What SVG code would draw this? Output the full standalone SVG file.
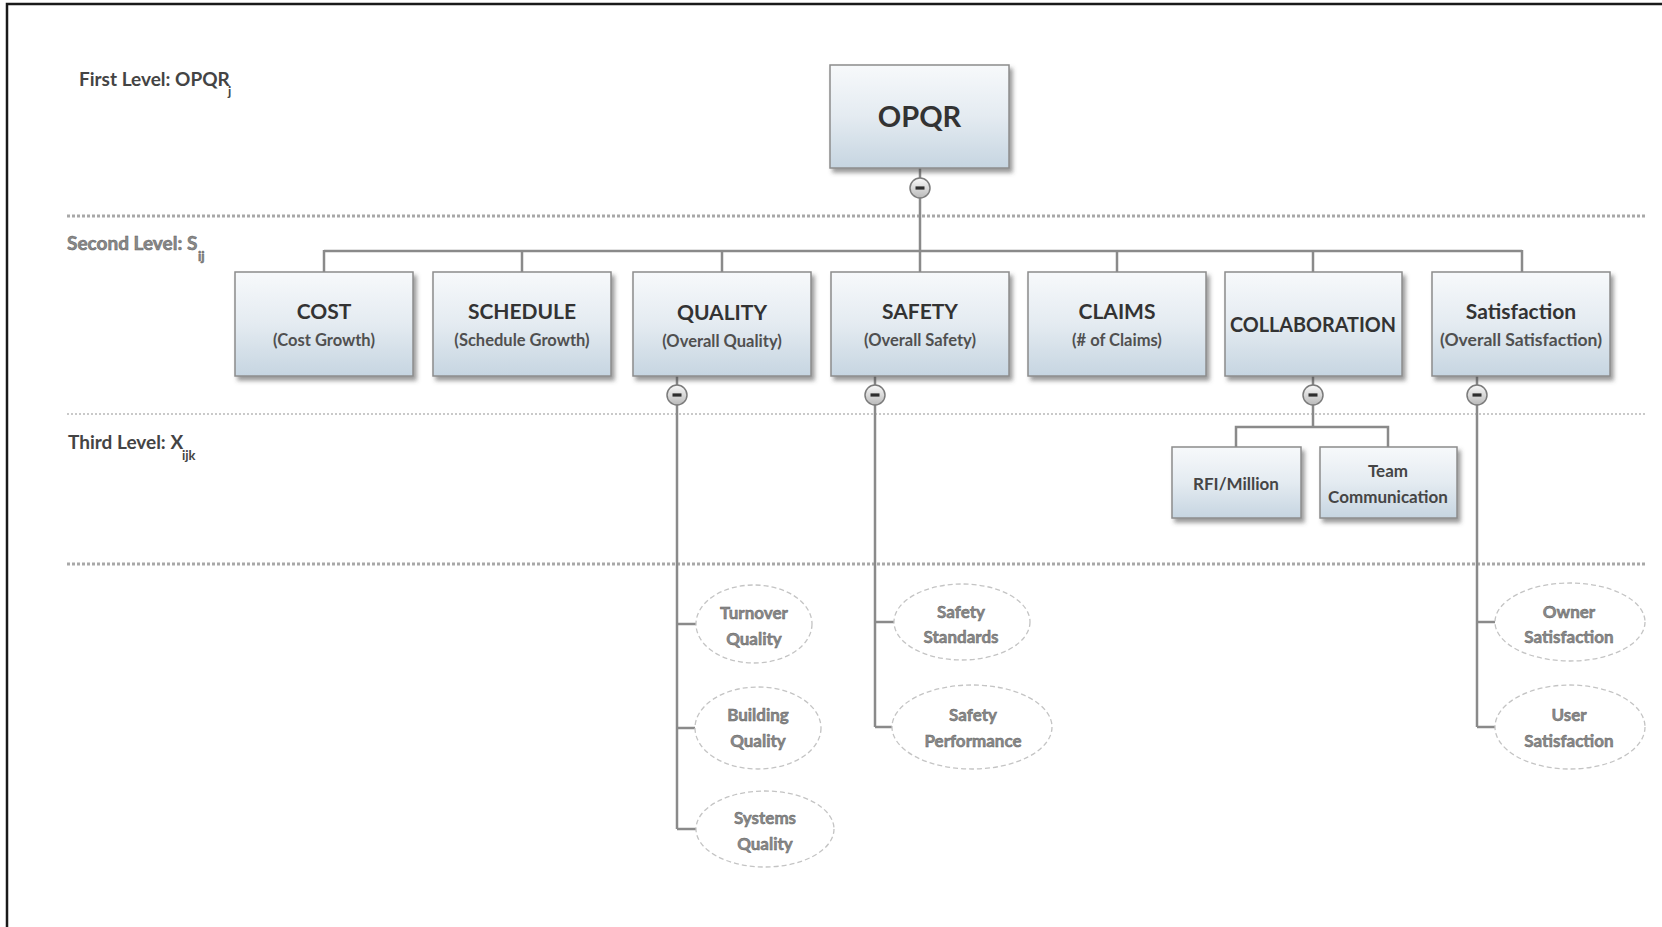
<svg xmlns="http://www.w3.org/2000/svg" width="1662" height="927" viewBox="0 0 1662 927">
  <defs>
    <linearGradient id="boxFill" x1="0" y1="0" x2="0" y2="1">
      <stop offset="0" stop-color="#f7f9fb"/>
      <stop offset="0.5" stop-color="#e4ebf1"/>
      <stop offset="1" stop-color="#c6d5e1"/>
    </linearGradient>
    <linearGradient id="knobFill" x1="0" y1="0" x2="0" y2="1">
      <stop offset="0" stop-color="#fafafa"/>
      <stop offset="1" stop-color="#b9b9b9"/>
    </linearGradient>
    <filter id="shadow" x="-10%" y="-10%" width="125%" height="135%">
      <feDropShadow dx="3" dy="4" stdDeviation="2" flood-color="#4a4a4a" flood-opacity="0.55"/>
    </filter>
    <symbol id="knob" viewBox="-11 -11 22 22" overflow="visible">
      <circle r="10" fill="url(#knobFill)" stroke="#7b7b7b" stroke-width="1.5"/>
      <rect x="-4.5" y="-1.6" width="9" height="3.2" fill="#2e2e2e"/>
    </symbol>
  </defs>
  <style>
    .frame { stroke: #1a1a1a; stroke-width: 2.5; fill: none; }
    .sep { stroke: #a8a8a8; stroke-width: 3; stroke-dasharray: 3 2; fill: none; }
    .sep2 { stroke: #b8b8b8; stroke-width: 1.5; stroke-dasharray: 2 2; fill: none; }
    .wire { stroke: #8a8a8a; stroke-width: 2.5; fill: none; }
    .box { fill: url(#boxFill); stroke: #8c8c8c; stroke-width: 1.5; filter: url(#shadow); }
    .oval { fill: #ffffff; stroke: #c4c4c4; stroke-width: 1.3; stroke-dasharray: 5 3; }
    .lvl { font-family: Lato, "Open Sans", "Liberation Sans", sans-serif; font-size: 19px; font-weight: 700; fill: #444444; }
    .lvlsoft { font-family: Lato, "Open Sans", "Liberation Sans", sans-serif; font-size: 19px; font-weight: 700; fill: #8a8a8a; stroke: #5e5e5e; stroke-width: 0.5; }
    .sub { font-size: 13px; }
    .title { font-family: Lato, "Open Sans", "Liberation Sans", sans-serif; font-size: 21px; font-weight: 700; fill: #333333; text-anchor: middle; }
    .big { font-family: Lato, "Open Sans", "Liberation Sans", sans-serif; font-size: 29px; font-weight: 700; fill: #333333; text-anchor: middle; }
    .note { font-family: Lato, "Open Sans", "Liberation Sans", sans-serif; font-size: 16.5px; font-weight: 700; fill: #505050; text-anchor: middle; }
    .leaf { font-family: Lato, "Open Sans", "Liberation Sans", sans-serif; font-size: 17px; font-weight: 700; fill: #454545; text-anchor: middle; }
    .soft { font-family: Lato, "Open Sans", "Liberation Sans", sans-serif; font-size: 17px; font-weight: 700; fill: #8a8a8a; stroke: #5e5e5e; stroke-width: 0.45; text-anchor: middle; }
  </style>

  <rect x="0" y="0" width="1662" height="927" fill="#ffffff"/>
  <!-- page frame: top and left rules only -->
  <path class="frame" d="M7 927 V4 H1662"/>

  <!-- level separators -->
  <line class="sep" x1="67" y1="216" x2="1645" y2="216"/>
  <line class="sep2" x1="67" y1="414" x2="1645" y2="414"/>
  <line class="sep" x1="67" y1="564" x2="1645" y2="564"/>

  <!-- level captions -->
  <g id="level-labels">
    <text class="lvl" x="79" y="86">First Level: OPQR</text>
    <text class="lvl sub" x="228" y="96">j</text>
    <text class="lvlsoft" x="67" y="250">Second Level: S</text>
    <text class="lvlsoft sub" x="198" y="261">ij</text>
    <text class="lvl" x="68" y="449">Third Level: X</text>
    <text class="lvl sub" x="182" y="460">ijk</text>
  </g>

  <!-- connectors -->
  <g id="connectors">
    <line class="wire" x1="920" y1="168" x2="920" y2="251"/>
    <line class="wire" x1="324" y1="251" x2="1522" y2="251"/>
    <line class="wire" x1="324" y1="250" x2="324" y2="272"/>
    <line class="wire" x1="522" y1="250" x2="522" y2="272"/>
    <line class="wire" x1="722" y1="250" x2="722" y2="272"/>
    <line class="wire" x1="920" y1="250" x2="920" y2="272"/>
    <line class="wire" x1="1117" y1="250" x2="1117" y2="272"/>
    <line class="wire" x1="1313" y1="250" x2="1313" y2="272"/>
    <line class="wire" x1="1522" y1="250" x2="1522" y2="272"/>

    <!-- QUALITY children -->
    <path class="wire" d="M677 376 V829"/>
    <path class="wire" d="M677 624 H696 M677 728 H695 M677 829 H696"/>
    <!-- SAFETY children -->
    <path class="wire" d="M875 376 V727"/>
    <path class="wire" d="M875 622 H894 M875 727 H892"/>
    <!-- COLLABORATION children -->
    <path class="wire" d="M1313 376 V427 M1236 447 V427 H1388 V447"/>
    <!-- Satisfaction children -->
    <path class="wire" d="M1477 376 V727"/>
    <path class="wire" d="M1477 622 H1495 M1477 727 H1495"/>
  </g>

  <!-- collapse toggles -->
  <g id="toggles">
    <use href="#knob" x="909" y="177" width="22" height="22"/>
    <use href="#knob" x="666" y="384" width="22" height="22"/>
    <use href="#knob" x="864" y="384" width="22" height="22"/>
    <use href="#knob" x="1302" y="384" width="22" height="22"/>
    <use href="#knob" x="1466" y="384" width="22" height="22"/>
  </g>

  <!-- first level -->
  <g id="opqr">
    <rect class="box" x="830" y="65" width="179" height="103"/>
    <text class="big" x="919.5" y="127">OPQR</text>
  </g>

  <!-- second level -->
  <g id="cost">
    <rect class="box" x="235" y="272" width="178" height="104"/>
    <text class="title" x="324" y="319">COST</text>
    <text class="note" x="324" y="346">(Cost Growth)</text>
  </g>
  <g id="schedule">
    <rect class="box" x="433" y="272" width="178" height="104"/>
    <text class="title" x="522" y="319">SCHEDULE</text>
    <text class="note" x="522" y="346">(Schedule Growth)</text>
  </g>
  <g id="quality">
    <rect class="box" x="633" y="272" width="178" height="104"/>
    <text class="title" x="722" y="320">QUALITY</text>
    <text class="note" x="722" y="347">(Overall Quality)</text>
  </g>
  <g id="safety">
    <rect class="box" x="831" y="272" width="178" height="104"/>
    <text class="title" x="920" y="319">SAFETY</text>
    <text class="note" x="920" y="346">(Overall Safety)</text>
  </g>
  <g id="claims">
    <rect class="box" x="1028" y="272" width="178" height="104"/>
    <text class="title" x="1117" y="319">CLAIMS</text>
    <text class="note" x="1117" y="346">(# of Claims)</text>
  </g>
  <g id="collaboration">
    <rect class="box" x="1225" y="272" width="177" height="104"/>
    <text class="title" x="1313" y="332" textLength="166" lengthAdjust="spacingAndGlyphs">COLLABORATION</text>
  </g>
  <g id="satisfaction">
    <rect class="box" x="1432" y="272" width="178" height="104"/>
    <text class="title" x="1521" y="319">Satisfaction</text>
    <text class="note" x="1521" y="346" textLength="162" lengthAdjust="spacingAndGlyphs">(Overall Satisfaction)</text>
  </g>

  <!-- third level -->
  <g id="rfi-million">
    <rect class="box" x="1172" y="447" width="129" height="71"/>
    <text class="leaf" x="1236" y="490">RFI/Million</text>
  </g>
  <g id="team-communication">
    <rect class="box" x="1320" y="447" width="137" height="71"/>
    <text class="leaf" x="1388" y="477">Team</text>
    <text class="leaf" x="1388" y="503">Communication</text>
  </g>

  <!-- measures -->
  <g id="turnover-quality">
    <ellipse class="oval" cx="754" cy="624" rx="58" ry="39"/>
    <text class="soft" x="754" y="619">Turnover</text>
    <text class="soft" x="754" y="645">Quality</text>
  </g>
  <g id="building-quality">
    <ellipse class="oval" cx="758" cy="728" rx="63" ry="41"/>
    <text class="soft" x="758" y="721">Building</text>
    <text class="soft" x="758" y="747">Quality</text>
  </g>
  <g id="systems-quality">
    <ellipse class="oval" cx="765" cy="829" rx="69" ry="38"/>
    <text class="soft" x="765" y="824">Systems</text>
    <text class="soft" x="765" y="850">Quality</text>
  </g>
  <g id="safety-standards">
    <ellipse class="oval" cx="962" cy="622" rx="68" ry="38"/>
    <text class="soft" x="961" y="618">Safety</text>
    <text class="soft" x="961" y="643">Standards</text>
  </g>
  <g id="safety-performance">
    <ellipse class="oval" cx="972" cy="727" rx="80" ry="42"/>
    <text class="soft" x="973" y="721">Safety</text>
    <text class="soft" x="973" y="747">Performance</text>
  </g>
  <g id="owner-satisfaction">
    <ellipse class="oval" cx="1570" cy="622" rx="75" ry="39"/>
    <text class="soft" x="1569" y="618">Owner</text>
    <text class="soft" x="1569" y="643">Satisfaction</text>
  </g>
  <g id="user-satisfaction">
    <ellipse class="oval" cx="1570" cy="727" rx="75" ry="42"/>
    <text class="soft" x="1569" y="721">User</text>
    <text class="soft" x="1569" y="747">Satisfaction</text>
  </g>
</svg>
